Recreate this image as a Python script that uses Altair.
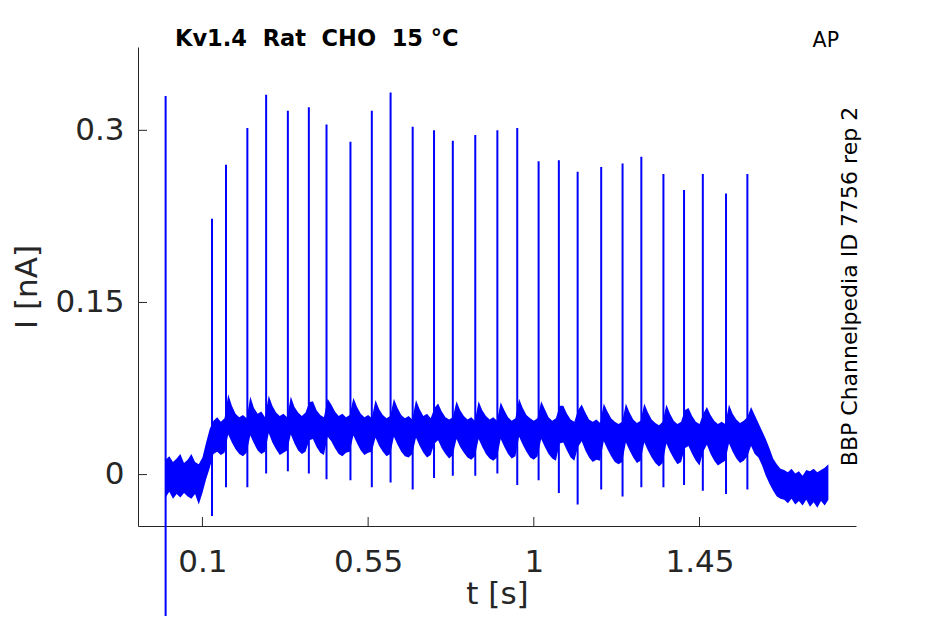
import altair as alt
import pandas as pd

# ---------------- data ----------------
# noise band of the recorded current, sampled every 10 ms from 0 to 1.80 s
band_hi = [0.013, 0.016, 0.011, 0.014, 0.018, 0.010, 0.013, 0.018, 0.011, 0.009,
           0.015, 0.028, 0.040, 0.047, 0.050, 0.046, 0.049, 0.070, 0.060, 0.053,
           0.050, 0.052, 0.049, 0.068, 0.058, 0.053, 0.055, 0.050, 0.069, 0.060,
           0.054, 0.051, 0.053, 0.050, 0.068, 0.059, 0.054, 0.051, 0.054, 0.063,
           0.064, 0.056, 0.052, 0.050, 0.066, 0.061, 0.055, 0.051, 0.053, 0.050,
           0.052, 0.067, 0.059, 0.053, 0.050, 0.052, 0.049, 0.065, 0.057, 0.052,
           0.049, 0.051, 0.066, 0.058, 0.052, 0.049, 0.051, 0.048, 0.065, 0.057,
           0.051, 0.053, 0.049, 0.058, 0.062, 0.055, 0.050, 0.048, 0.050, 0.064,
           0.056, 0.051, 0.048, 0.050, 0.047, 0.064, 0.056, 0.051, 0.048, 0.050,
           0.047, 0.063, 0.056, 0.050, 0.047, 0.049, 0.066, 0.058, 0.052, 0.049,
           0.047, 0.049, 0.064, 0.057, 0.050, 0.047, 0.049, 0.060, 0.060, 0.053,
           0.048, 0.046, 0.056, 0.061, 0.054, 0.048, 0.046, 0.048, 0.045, 0.062,
           0.055, 0.049, 0.046, 0.044, 0.046, 0.062, 0.054, 0.048, 0.045, 0.047,
           0.062, 0.054, 0.048, 0.045, 0.043, 0.046, 0.061, 0.053, 0.047, 0.044,
           0.046, 0.056, 0.058, 0.051, 0.046, 0.044, 0.053, 0.059, 0.052, 0.047,
           0.044, 0.046, 0.044, 0.061, 0.053, 0.048, 0.045, 0.047, 0.050, 0.059,
           0.052, 0.045, 0.038, 0.031, 0.023, 0.014, 0.009, 0.005, 0.004, 0.002,
           0.005, 0.001, 0.003, -0.001, 0.004, 0.003, 0.005, 0.002, 0.004, 0.006,
           0.009]
band_lo = [-0.020, -0.015, -0.021, -0.017, -0.020, -0.016, -0.019, -0.021, -0.017, -0.026,
           -0.016, -0.004, 0.006, 0.018, 0.020, 0.017, 0.019, 0.035, 0.028, 0.022,
           0.018, 0.016, 0.019, 0.034, 0.027, 0.021, 0.018, 0.020, 0.036, 0.028,
           0.022, 0.017, 0.019, 0.021, 0.035, 0.027, 0.021, 0.018, 0.020, 0.030,
           0.031, 0.024, 0.019, 0.017, 0.033, 0.029, 0.023, 0.018, 0.016, 0.019,
           0.020, 0.034, 0.027, 0.021, 0.017, 0.019, 0.020, 0.032, 0.025, 0.020,
           0.016, 0.018, 0.033, 0.026, 0.020, 0.016, 0.015, 0.018, 0.032, 0.025,
           0.019, 0.015, 0.017, 0.027, 0.030, 0.023, 0.018, 0.014, 0.017, 0.031,
           0.024, 0.019, 0.015, 0.013, 0.016, 0.031, 0.024, 0.018, 0.014, 0.012,
           0.015, 0.031, 0.024, 0.018, 0.014, 0.016, 0.033, 0.026, 0.020, 0.015,
           0.013, 0.016, 0.031, 0.024, 0.018, 0.014, 0.012, 0.027, 0.028, 0.021,
           0.015, 0.012, 0.024, 0.029, 0.021, 0.015, 0.011, 0.013, 0.012, 0.029,
           0.022, 0.016, 0.011, 0.009, 0.011, 0.028, 0.021, 0.015, 0.010, 0.012,
           0.028, 0.021, 0.015, 0.010, 0.007, 0.010, 0.027, 0.020, 0.014, 0.009,
           0.011, 0.023, 0.025, 0.018, 0.012, 0.008, 0.020, 0.026, 0.018, 0.012,
           0.008, 0.010, 0.012, 0.027, 0.020, 0.014, 0.010, 0.012, 0.016, 0.025,
           0.018, 0.015, 0.008, -0.001, -0.008, -0.014, -0.019, -0.021, -0.022, -0.025,
           -0.021, -0.026, -0.023, -0.027, -0.022, -0.028, -0.024, -0.029, -0.023, -0.027,
           -0.022]
band_t = [round(i * 0.01, 2) for i in range(len(band_hi))]

# spikes (stimulus artefact at t = 0, then the AP-evoked currents)
spike_t = [0.0, 0.126, 0.164, 0.222, 0.273, 0.332, 0.389, 0.437, 0.502, 0.560,
           0.611, 0.671, 0.729, 0.780, 0.841, 0.901, 0.955, 1.013, 1.068, 1.119,
           1.183, 1.241, 1.292, 1.352, 1.408, 1.459, 1.522, 1.580]
spike_peak = [0.330, 0.223, 0.270, 0.302, 0.331, 0.317, 0.320, 0.305, 0.290, 0.317,
              0.333, 0.303, 0.300, 0.291, 0.296, 0.300, 0.302, 0.273, 0.274, 0.264,
              0.268, 0.271, 0.277, 0.262, 0.248, 0.262, 0.245, 0.262]
spike_trough = [-0.14, -0.036, -0.011, -0.011, 0.001, 0.003, 0.001, -0.004, -0.005, -0.011,
                -0.007, -0.013, -0.003, -0.001, -0.001, 0.001, -0.009, -0.005, -0.016, -0.026,
                -0.013, -0.019, -0.011, -0.011, -0.009, -0.014, -0.017, -0.013]

x_ticks = [0.1, 0.55, 1, 1.45]
y_ticks = [0, 0.15, 0.3]
x_domain = [-0.075, 1.875]
y_domain = [-0.0448, 0.3726]

title_text = "Kv1.4\u00a0\u00a0Rat\u00a0\u00a0CHO\u00a0\u00a015 °C"
corner_text = "AP"
side_text = "BBP Channelpedia ID 7756 rep 2"

# ---------------- chart ----------------
W, H = 718, 479
BLUE = "#0000ff"
GREY = "#262626"
FONT = "DejaVu Sans"

xs = alt.Scale(domain=x_domain, nice=False, zero=False)
ys = alt.Scale(domain=y_domain, nice=False, zero=False)

band_df = pd.DataFrame({"t": band_t, "hi": band_hi, "lo": band_lo})
spike_df = pd.DataFrame({"t": spike_t, "peak": spike_peak, "trough": spike_trough})

x_axis = alt.Axis(values=x_ticks, format=".3~g", title="t [s]", grid=False,
                  ticks=False, tickSize=0, domainColor=GREY, domainWidth=1,
                  labelFont=FONT, labelFontSize=31, labelColor=GREY,
                  labelPadding=21, titleFont=FONT, titleFontSize=31,
                  titleFontWeight="normal", titleColor=GREY, titlePadding=2)
y_axis = alt.Axis(values=y_ticks, format=".3~g", title="I [nA]", grid=False,
                  ticks=False, tickSize=0, domainColor=GREY, domainWidth=1,
                  labelFont=FONT, labelFontSize=31, labelColor=GREY,
                  labelPadding=14, titleFont=FONT, titleFontSize=31,
                  titleFontWeight="normal", titleColor=GREY, titlePadding=11)

band = alt.Chart(band_df).mark_area(color=BLUE, opacity=1).encode(
    x=alt.X("t:Q", scale=xs, axis=x_axis),
    y=alt.Y("hi:Q", scale=ys, axis=y_axis),
    y2="lo:Q",
)

spikes = alt.Chart(spike_df).mark_rule(color=BLUE, strokeWidth=2, clip=False).encode(
    x=alt.X("t:Q", scale=xs, axis=x_axis),
    y=alt.Y("peak:Q", scale=ys, axis=y_axis),
    y2="trough:Q",
)

ytick_marks = alt.Chart(pd.DataFrame({"v": y_ticks})).mark_rule(
    color=GREY, strokeWidth=1).encode(
    y=alt.Y("v:Q", scale=ys, axis=y_axis), x=alt.value(0), x2=alt.value(9))
xtick_marks = alt.Chart(pd.DataFrame({"t": x_ticks})).mark_rule(
    color=GREY, strokeWidth=1).encode(
    x=alt.X("t:Q", scale=xs, axis=x_axis), y=alt.value(H), y2=alt.value(H - 9))

one = pd.DataFrame({"a": [0]})
title_mark = alt.Chart(one).mark_text(
    text=title_text, font=FONT, fontSize=22.5, fontWeight="bold", color="black",
    align="left", baseline="alphabetic").encode(x=alt.value(37), y=alt.value(-1))
corner_mark = alt.Chart(one).mark_text(
    text=corner_text, font=FONT, fontSize=20.5, color="black",
    align="right", baseline="alphabetic").encode(x=alt.value(701), y=alt.value(0))
side_mark = alt.Chart(one).mark_text(
    text=side_text, font=FONT, fontSize=22, color="black", angle=270,
    align="center", baseline="alphabetic").encode(x=alt.value(719), y=alt.value(H / 2))

chart = alt.layer(
    band, spikes, ytick_marks, xtick_marks, title_mark, corner_mark, side_mark
).properties(
    width=W, height=H,
    autosize=alt.AutoSizeParams(type="none"),
    padding={"left": 130, "top": 39, "right": 79, "bottom": 90},
    background="white",
).configure_view(strokeWidth=0)

chart.save("out.html", embed_options={"renderer": "svg", "actions": False})
